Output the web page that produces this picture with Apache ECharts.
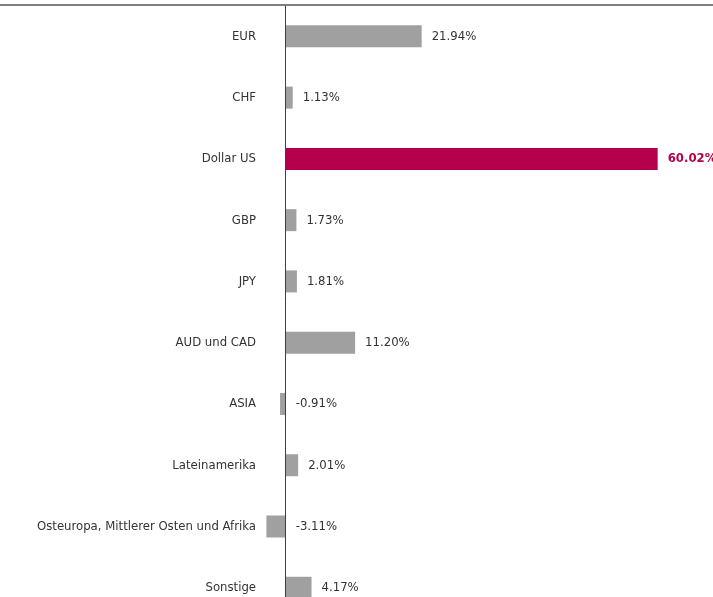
<!DOCTYPE html>
<html><head><meta charset="utf-8">
<script src="https://cdn.jsdelivr.net/npm/echarts@6/dist/echarts.min.js"></script>
<style>html,body{margin:0;padding:0;background:#fff}#c{width:713px;height:597px}</style>
</head><body><div id="c"></div>
<script>
const categories = ["EUR","CHF","Dollar US","GBP","JPY","AUD und CAD","ASIA","Lateinamerika","Osteuropa, Mittlerer Osten und Afrika","Sonstige"];
const values = [21.94, 1.13, 60.02, 1.73, 1.81, 11.20, -0.91, 2.01, -3.11, 4.17];
const highlight = "Dollar US";
const FONT = "'DejaVu Sans Condensed',sans-serif";
const GRAY = '#a0a0a0', RED = '#b5004b';
const chart = echarts.init(document.getElementById('c'));
chart.setOption({
  animation: false,
  grid: {left: 0, right: 0, top: 5.7, height: 612.7, containLabel: false, outerBoundsMode: 'none'},
  xAxis: {type: 'value', min: -46.1, max: 68.95, show: false},
  yAxis: {type: 'category', data: categories, inverse: true,
    axisLine: {show: false},
    axisTick: {show: false},
    axisLabel: {margin: -256, color: '#333', fontFamily: FONT, fontSize: 13}},
  graphic: [{type: 'line', shape: {x1: 0, y1: 5, x2: 713, y2: 5}, style: {stroke: '#7f7f7f', lineWidth: 2}}],
  series: [{type: 'bar', barWidth: 22,
    data: values.map((v, i) => categories[i] === highlight ? {
      value: v, itemStyle: {color: RED},
      label: {color: RED, fontWeight: 'bold'}} : {value: v}),
    itemStyle: {color: GRAY},
    label: {show: true, position: 'right', distance: 10, color: '#333', fontFamily: FONT, fontSize: 13,
      formatter: p => p.value.toFixed(2) + '%'},
    markLine: {silent: true, symbol: 'none', label: {show: false}, animation: false,
      lineStyle: {color: RED, width: 1, type: 'solid', opacity: 1}, data: [{xAxis: 0}]}
  }]
});
</script></body></html>
